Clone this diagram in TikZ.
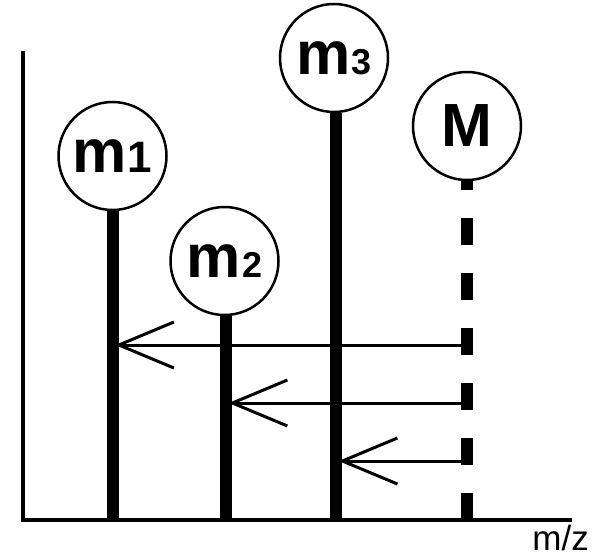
\documentclass[tikz,border=0pt]{standalone}
\usepackage{fontspec}
\setmainfont{Liberation Sans}
\usetikzlibrary{arrows.meta}
\begin{document}
\begin{tikzpicture}[x=1pt,y=-1pt,
  peak/.style={circle,draw,line width=2.5pt,minimum size=108pt,inner sep=0pt,
    font=\fontsize{61}{61}\selectfont\bfseries},
  axisline/.style={line width=4pt,line cap=rect},
  barline/.style={line width=12pt},
  shiftarrow/.style={line width=3pt,-{Straight Barb[length=55pt,width=46pt,line width=3pt]}}]
\useasboundingbox (0,0) rectangle (602,557);
% axes
\coordinate (top) at (22.5,53);
\coordinate (orig) at (22.5,520);
\coordinate (xend) at (570,520);
\draw[axisline] (top) -- (orig) -- (xend);
\node[anchor=base east,inner sep=0pt,font=\fontsize{35}{35}\selectfont] (mz) at (589,550) {m/z};
% peaks
\node[peak] (m1) at (112.5,156) {m\kern1pt{\fontsize{44}{44}\selectfont\bfseries 1}};
\node[peak] (m2) at (224.5,261) {m\kern1pt{\fontsize{36}{36}\selectfont\bfseries 2}};
\node[peak] (m3) at (334,58) {m\kern1pt{\fontsize{36}{36}\selectfont\bfseries 3}};
\node[peak] (M) at (467,126) {M};
\coordinate (b1) at (112.5,520);
\coordinate (b2) at (226,520);
\coordinate (b3) at (336,520);
\coordinate (bM) at (467,520);
\draw[barline] (m1.south) -- (b1);
\draw[barline] (m2.south -| b2) -- (b2);
\draw[barline] (m3.south -| b3) -- (b3);
\draw[barline,dash pattern=on 27pt off 28pt] (bM) -- (M.south);
% arrows
\coordinate (s1) at (467,345);
\coordinate (s2) at (467,403);
\coordinate (s3) at (467,461);
\coordinate (e1) at (115,345);
\coordinate (e2) at (228.5,403);
\coordinate (e3) at (338.5,461);
\draw[shiftarrow] (s1) -- (e1);
\draw[shiftarrow] (s2) -- (e2);
\draw[shiftarrow] (s3) -- (e3);
\end{tikzpicture}
\end{document}
